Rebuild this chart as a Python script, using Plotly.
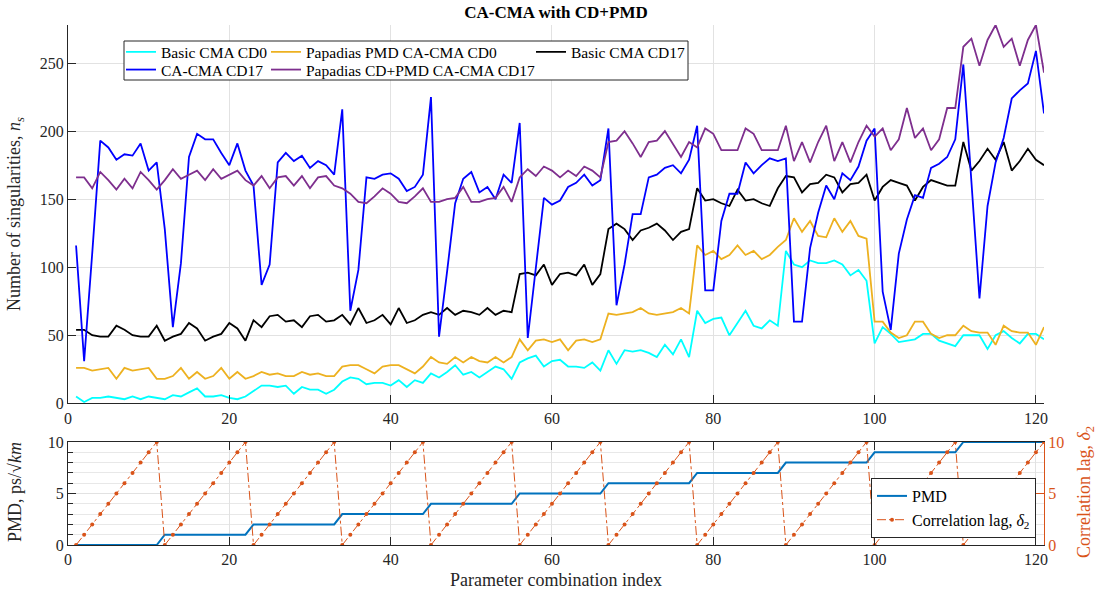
import plotly.graph_objects as go

# Parameter combination index
idx = list(range(1, 122))

basic_cma_cd0 = [
    5, 1, 4, 4, 5, 4, 3, 5, 3, 5, 4,
    3, 6, 5, 8, 11, 5, 5, 6, 4, 3, 5,
    9, 13, 13, 12, 13, 7, 12, 10, 10, 7, 10,
    16, 19, 18, 14, 15, 15, 13, 17, 12, 17, 15,
    22, 19, 23, 28, 21, 23, 19, 23, 27, 25, 18,
    30, 33, 35, 27, 31, 32, 27, 27, 26, 30, 24,
    39, 29, 39, 38, 39, 37, 34, 43, 36, 47, 34,
    68, 59, 62, 63, 50, 59, 68, 57, 55, 61, 57,
    112, 102, 100, 105, 103, 103, 105, 102, 94, 98, 90,
    44, 56, 51, 45, 46, 47, 51, 51, 46, 44, 42,
    50, 50, 50, 40, 50, 53, 48, 44, 51, 51, 47,
]

papadias_pmd_cd0 = [
    26, 26, 24, 25, 26, 18, 26, 24, 25, 26, 18,
    18, 20, 26, 18, 23, 18, 20, 26, 18, 23, 18,
    20, 23, 21, 22, 20, 20, 23, 21, 22, 20, 20,
    27, 28, 28, 25, 22, 27, 28, 28, 25, 22, 27,
    34, 30, 29, 34, 30, 34, 31, 30, 34, 30, 34,
    47, 39, 46, 47, 45, 47, 39, 46, 47, 45, 47,
    66, 65, 66, 67, 70, 66, 65, 66, 67, 70, 66,
    116, 109, 112, 106, 109, 116, 109, 112, 106, 109, 115,
    120, 136, 126, 134, 123, 122, 136, 126, 134, 123, 121,
    60, 60, 52, 48, 50, 60, 60, 51, 48, 50, 50,
    57, 53, 52, 52, 43, 57, 53, 52, 52, 43, 56,
]

basic_cma_cd17 = [
    54, 54, 50, 49, 49, 57, 54, 50, 49, 49, 57,
    46, 49, 51, 59, 55, 46, 49, 51, 59, 55, 46,
    61, 56, 64, 65, 60, 61, 56, 64, 65, 60, 61,
    65, 58, 70, 59, 61, 65, 58, 70, 59, 61, 65,
    67, 65, 70, 65, 68, 67, 65, 70, 65, 68, 67,
    95, 96, 94, 102, 87, 95, 96, 94, 102, 87, 95,
    128, 132, 128, 120, 127, 129, 132, 127, 120, 126, 128,
    158, 149, 150, 147, 145, 157, 149, 150, 147, 145, 158,
    167, 166, 155, 161, 162, 168, 166, 155, 161, 162, 168,
    149, 159, 164, 162, 160, 149, 159, 164, 162, 160, 160,
    192, 171, 178, 187, 179, 192, 171, 178, 187, 179, 175,
]

ca_cma_cd17 = [
    116, 31, 110, 193, 188, 179, 183, 182, 191, 171, 177,
    128, 56, 103, 181, 198, 194, 194, 184, 175, 191, 171,
    160, 87, 102, 177, 184, 178, 182, 173, 178, 175, 168,
    216, 68, 98, 166, 165, 168, 169, 165, 156, 159, 168,
    225, 49, 97, 147, 165, 170, 155, 159, 150, 168, 162,
    206, 48, 98, 151, 146, 149, 159, 162, 168, 160, 164,
    202, 72, 102, 139, 139, 166, 168, 173, 175, 169, 179,
    204, 83, 83, 134, 154, 154, 177, 169, 175, 180, 178,
    180, 60, 60, 114, 140, 160, 150, 169, 164, 174, 193,
    202, 82, 54, 110, 135, 153, 151, 173, 176, 181, 194,
    249, 163, 77, 145, 177, 195, 224, 230, 235, 259, 213,
]

papadias_cdpmd_cd17 = [
    166, 166, 158, 170, 164, 157, 165, 158, 170, 164, 157,
    164, 172, 165, 168, 171, 164, 172, 165, 168, 171, 164,
    160, 167, 158, 166, 167, 160, 167, 158, 166, 167, 160,
    158, 154, 148, 147, 152, 158, 154, 148, 147, 152, 158,
    148, 148, 150, 151, 159, 148, 148, 150, 151, 159, 148,
    166, 172, 167, 174, 171, 166, 171, 167, 174, 171, 166,
    192, 193, 200, 191, 181, 192, 193, 200, 190, 181, 192,
    188, 202, 198, 186, 186, 186, 202, 198, 186, 186, 186,
    204, 178, 192, 177, 192, 204, 178, 192, 177, 192, 204,
    196, 202, 186, 194, 217, 195, 202, 186, 194, 217, 217,
    262, 268, 248, 267, 278, 262, 268, 248, 267, 278, 243,
]

pmd_values = [
    0, 0, 0, 0, 0, 0, 0, 0, 0, 0, 0,
    1, 1, 1, 1, 1, 1, 1, 1, 1, 1, 1,
    2, 2, 2, 2, 2, 2, 2, 2, 2, 2, 2,
    3, 3, 3, 3, 3, 3, 3, 3, 3, 3, 3,
    4, 4, 4, 4, 4, 4, 4, 4, 4, 4, 4,
    5, 5, 5, 5, 5, 5, 5, 5, 5, 5, 5,
    6, 6, 6, 6, 6, 6, 6, 6, 6, 6, 6,
    7, 7, 7, 7, 7, 7, 7, 7, 7, 7, 7,
    8, 8, 8, 8, 8, 8, 8, 8, 8, 8, 8,
    9, 9, 9, 9, 9, 9, 9, 9, 9, 9, 9,
    10, 10, 10, 10, 10, 10, 10, 10, 10, 10, 10,
]

corr_lag = [
    0, 1, 2, 3, 4, 5, 6, 7, 8, 9, 10,
    0, 1, 2, 3, 4, 5, 6, 7, 8, 9, 10,
    0, 1, 2, 3, 4, 5, 6, 7, 8, 9, 10,
    0, 1, 2, 3, 4, 5, 6, 7, 8, 9, 10,
    0, 1, 2, 3, 4, 5, 6, 7, 8, 9, 10,
    0, 1, 2, 3, 4, 5, 6, 7, 8, 9, 10,
    0, 1, 2, 3, 4, 5, 6, 7, 8, 9, 10,
    0, 1, 2, 3, 4, 5, 6, 7, 8, 9, 10,
    0, 1, 2, 3, 4, 5, 6, 7, 8, 9, 10,
    0, 1, 2, 3, 4, 5, 6, 7, 8, 9, 10,
    0, 1, 2, 3, 4, 5, 6, 7, 8, 9, 10,
]

x_ticks = [0, 20, 40, 60, 80, 100, 120]

FONT = "Liberation Serif"
AX = "#262626"
GRID = "#E2E2E2"
MINOR_GRID = "#E8E8E8"
LAG_COLOR = "#D95319"
PMD_COLOR = "#0072BD"

W, H = 1100, 595
ML, MR, MT, MB = 68, 56, 25, 50
PW, PH = W - ML - MR, H - MT - MB


def px_x(px):
    return (px - ML) / PW


def px_y(py):
    return (H - MB - py) / PH


fig = go.Figure()

top_series = [
    (basic_cma_cd0, "Basic CMA CD0", "#00FFFF", "legend"),
    (papadias_pmd_cd0, "Papadias PMD CA-CMA CD0", "#EDB120", "legend3"),
    (basic_cma_cd17, "Basic CMA CD17", "#000000", "legend5"),
    (ca_cma_cd17, "CA-CMA CD17", "#0000FF", "legend2"),
    (papadias_cdpmd_cd17, "Papadias CD+PMD CA-CMA CD17", "#7E2F8E", "legend4"),
]
for vals, name, color, leg in top_series:
    fig.add_trace(go.Scatter(
        x=idx, y=vals, name=name, mode="lines",
        line=dict(color=color, width=1.8),
        xaxis="x", yaxis="y", legend=leg, showlegend=True,
    ))

fig.add_trace(go.Scatter(
    x=idx, y=pmd_values, name="PMD", mode="lines",
    line=dict(color=PMD_COLOR, width=2),
    xaxis="x2", yaxis="y2", legend="legend6", showlegend=True,
))
fig.add_trace(go.Scatter(
    x=idx, y=corr_lag, name="Correlation lag, <i>δ</i><sub>2</sub>",
    mode="lines+markers",
    line=dict(color=LAG_COLOR, width=1, dash="dashdot"),
    marker=dict(color=LAG_COLOR, size=4),
    xaxis="x2", yaxis="y3", legend="legend6", showlegend=True,
))

tick_font = dict(family=FONT, size=16, color=AX)
top_dom = [px_y(403.3), 1.0]
bot_dom = [0.0, px_y(442)]

common_x = dict(
    range=[0, 121], tickvals=x_ticks, showgrid=True, gridcolor=GRID,
    showline=True, linecolor=AX, linewidth=1, ticks="inside", ticklen=8,
    tickcolor=AX, tickfont=tick_font, zeroline=False,
)

leg_font = dict(family=FONT, size=15.5, color="#000000")
legend_common = dict(
    bgcolor="rgba(0,0,0,0)", borderwidth=0, font=leg_font,
    xanchor="left", yanchor="middle", orientation="v",
)
row1, row2 = px_y(52.3), px_y(70)
col1, col2, col3 = px_x(121), px_x(266), px_x(531)

fig.update_layout(
    width=W, height=H,
    showlegend=True,
    margin=dict(l=ML, r=MR, t=MT, b=MB),
    paper_bgcolor="white", plot_bgcolor="white",
    font=dict(family=FONT, color=AX),
    title=dict(
        text="<b>CA-CMA with CD+PMD</b>", x=0.5, xref="paper",
        xanchor="center", y=1 - 12 / H, yref="container", yanchor="middle",
        font=dict(family=FONT, size=17, color="#000000"),
    ),
    xaxis=dict(domain=[0, 1], anchor="y", **common_x),
    yaxis=dict(
        domain=top_dom, anchor="x", range=[0, 278],
        tickvals=[0, 50, 100, 150, 200, 250], showgrid=True, gridcolor=GRID,
        showline=True, linecolor=AX, linewidth=1, ticks="inside",
        ticklen=8, tickcolor=AX, tickfont=tick_font, zeroline=False,
    ),
    xaxis2=dict(domain=[0, 1], anchor="y2", mirror="ticks", **common_x),
    yaxis2=dict(
        domain=bot_dom, anchor="x2", range=[0, 10], tickvals=[0, 5, 10],
        showgrid=True, gridcolor=GRID, showline=True, linecolor=AX,
        linewidth=1, ticks="inside", ticklen=8, tickcolor=AX,
        tickfont=tick_font, zeroline=False,
        minor=dict(dtick=1, showgrid=True, gridcolor=MINOR_GRID,
                   ticks="inside", ticklen=5, tickcolor=AX),
    ),
    yaxis3=dict(
        overlaying="y2", anchor="x2", side="right", range=[0, 10],
        tickvals=[0, 5, 10], showgrid=False, showline=True,
        linecolor=LAG_COLOR, linewidth=1, ticks="inside", ticklen=8,
        tickcolor=LAG_COLOR,
        tickfont=dict(family=FONT, size=16, color=LAG_COLOR),
        zeroline=False,
    ),
    legend=dict(x=col1, y=row1, **legend_common),
    legend2=dict(x=col1, y=row2, **legend_common),
    legend3=dict(x=col2, y=row1, **legend_common),
    legend4=dict(x=col2, y=row2, **legend_common),
    legend5=dict(x=col3, y=row1, **legend_common),
    legend6=dict(
        x=px_x(1036), y=px_y(538), xanchor="right", yanchor="bottom",
        bgcolor="white", bordercolor=AX, borderwidth=1,
        font=dict(family=FONT, size=16, color="#000000"),
    ),
    shapes=[dict(
        type="rect", xref="paper", yref="paper",
        x0=px_x(124), x1=px_x(688), y0=px_y(80), y1=px_y(41),
        line=dict(color=AX, width=1), fillcolor="white", layer="above",
    )],
    annotations=[
        dict(text="Number of singularities, <i>n</i><sub><i>s</i></sub>",
             x=px_x(15), y=px_y(214), xref="paper", yref="paper",
             textangle=-90, showarrow=False, xanchor="center",
             yanchor="middle", font=dict(family=FONT, size=18, color=AX)),
        dict(text="PMD, ps/√<i>km</i>",
             x=px_x(15), y=px_y(492), xref="paper", yref="paper",
             textangle=-90, showarrow=False, xanchor="center",
             yanchor="middle", font=dict(family=FONT, size=18, color=AX)),
        dict(text="Correlation lag, <i>δ</i><sub>2</sub>",
             x=px_x(1085), y=px_y(492), xref="paper", yref="paper",
             textangle=-90, showarrow=False, xanchor="center",
             yanchor="middle",
             font=dict(family=FONT, size=18, color=LAG_COLOR)),
        dict(text="Parameter combination index",
             x=0.5, y=px_y(580), xref="paper", yref="paper",
             showarrow=False, xanchor="center", yanchor="middle",
             font=dict(family=FONT, size=18, color=AX)),
    ],
)

fig.write_html("out.html")
